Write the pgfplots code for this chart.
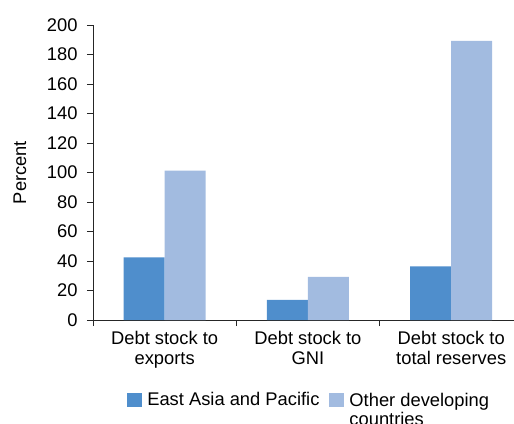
\documentclass[border=0pt]{standalone}
\usepackage{pgfplots}
\pgfplotsset{compat=1.18}
\usepackage{fontspec}
\setmainfont{Liberation Sans}

\definecolor{eap}{RGB}{79,142,204}
\definecolor{odc}{RGB}{162,187,224}

\begin{document}
\begin{tikzpicture}
\begin{axis}[
    scale only axis,
    width=421bp, height=295bp,
    xmin=-0.5, xmax=2.438,
    ymin=0, ymax=200,
    axis lines*=left,
    axis line style={line width=0.9bp, black!85},
    every tick/.style={line width=0.9bp, black!85},
    tick align=outside,
    major tick length=6bp,
    font=\fontsize{18.4}{20}\selectfont,
    /pgf/number format/assume math mode=true,
    ybar=0pt, bar width=41bp,
    ytick={0,20,...,200},
    yticklabel style={xshift=-6bp},
    xtick={-0.5,0.5,1.5,2.5},
    xticklabels={},
    extra x ticks={0,1,2},
    extra x tick labels={Debt stock to\\exports, Debt stock to\\GNI, Debt stock to\\total reserves},
    extra x tick style={major tick length=0pt, xticklabel style={align=center, yshift=-8bp}},
    ylabel=Percent,
    ylabel style={at={(axis description cs:-0.15,0.5)}, anchor=south},
    legend style={at={(axis description cs:0.081,-0.237)}, anchor=north west,
        draw=none, fill=none, inner sep=0pt,
        legend columns=2,
        /tikz/every odd column/.append style={column sep=3bp},
        /tikz/every even column/.append style={column sep=8bp}},
    legend cell align=left,
    legend image code/.code={\fill[#1] (0bp,-7bp) rectangle (15bp,7bp);},
]
\addplot[fill=eap, draw=none] coordinates {(0,42.5) (1,13.6) (2,36.4)};
\addplot[fill=odc, draw=none] coordinates {(0,101.2) (1,29.2) (2,189.3)};
\legend{East Asia and Pacific, {\begin{tabular}[t]{@{}l@{}}Other developing\\countries\end{tabular}}}
\end{axis}
\pgfresetboundingbox
\useasboundingbox (-93bp,-104bp) rectangle (421bp,320bp);
\end{tikzpicture}
\end{document}
